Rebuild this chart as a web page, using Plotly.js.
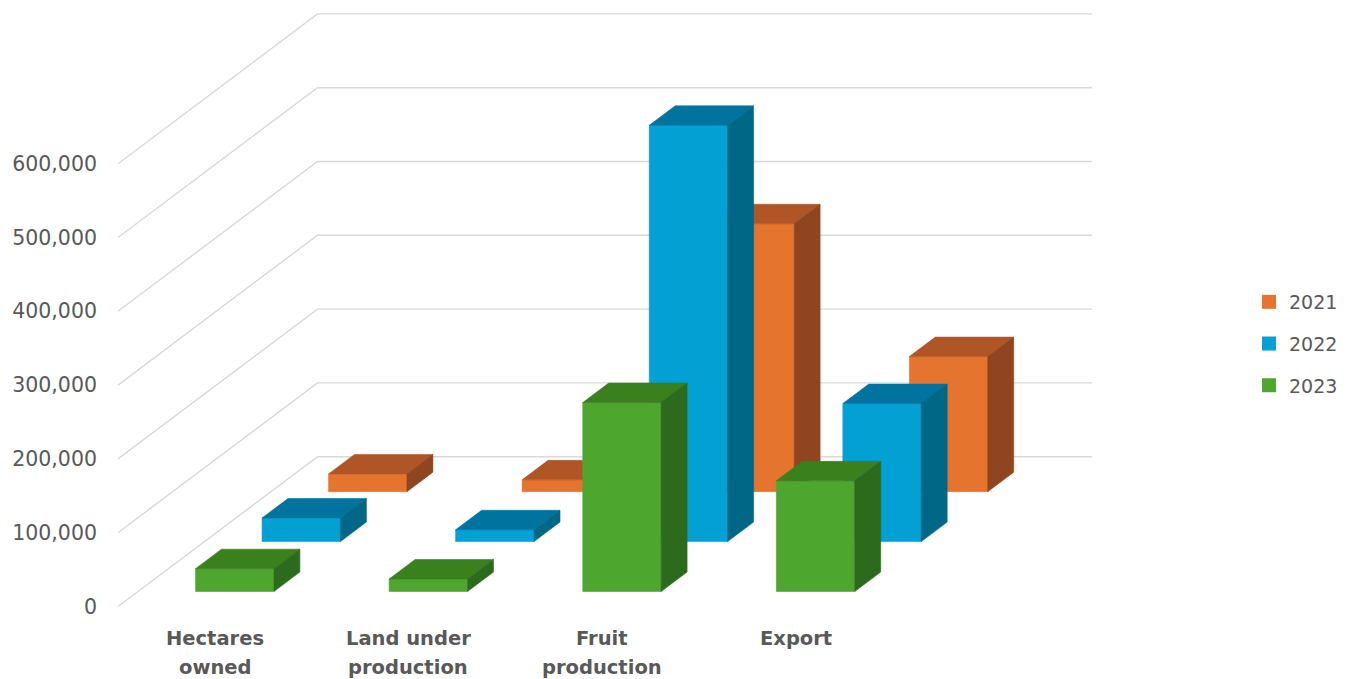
<!DOCTYPE html>
<html>
<head>
<meta charset="utf-8">
<script src="https://cdn.plot.ly/plotly-3.0.1.min.js"></script>
<style>
  html, body { margin: 0; padding: 0; background: #ffffff; }
  #chart { width: 1349px; height: 679px; }
</style>
</head>
<body>
<div id="chart"></div>
<script>
// Categories along the front edge of the floor
var categories = ['Hectares owned', 'Land under production', 'Fruit production', 'Export'];
var categoryLabels = ['Hectares<br>owned', 'Land under<br>production', 'Fruit<br>production', 'Export'];

// Series values (one row of bars per year)
var years = ['2021', '2022', '2023'];
var values2021 = [24000, 16000, 363000, 183000];
var values2022 = [32000, 16000, 564000, 187000];
var values2023 = [31000, 17000, 256000, 150000];

// Value axis ticks
var yTicks = [0, 100000, 200000, 300000, 400000, 500000, 600000];

// Face colours: front, top, side
var colors2021 = ['#E5742F', '#B05626', '#8E4520'];
var colors2022 = ['#03A0D4', '#00749E', '#006787'];
var colors2023 = ['#4DA72F', '#3A801C', '#2C6B1E'];

// Oblique projection: moving from the front of the floor to the back wall
// shifts a point by DEPTH_X categories to the right and DEPTH_Y value units up.
var DEPTH_X = 1.0305;
var DEPTH_Y = 203000;
var BAR_WIDTH = 0.405;
var BAR_DEPTH = 0.13;
var ROW_OFFSET = 0.1;          // gap between a depth slot's front and its bars
var nRows = years.length;

var series = [
  { name: years[0], values: values2021, colors: colors2021, row: 2 },
  { name: years[1], values: values2022, colors: colors2022, row: 1 },
  { name: years[2], values: values2023, colors: colors2023, row: 0 }
];

var traces = [];

// Wall gridlines: a diagonal on the left wall and a horizontal on the back wall
var gx = [], gy = [];
var leftX = -0.5, rightX = categories.length - 0.5;
yTicks.forEach(function (v) {
  gx.push(leftX, leftX + DEPTH_X, rightX + DEPTH_X, null);
  gy.push(v, v + DEPTH_Y, v + DEPTH_Y, null);
});
traces.push({
  type: 'scatter', mode: 'lines', x: gx, y: gy,
  line: { color: '#d9d9d9', width: 1.4 },
  hoverinfo: 'skip', showlegend: false
});

function face(xs, ys, color) {
  return {
    type: 'scatter', mode: 'lines', x: xs, y: ys,
    fill: 'toself', fillcolor: color,
    line: { color: color, width: 0.6 },
    hoverinfo: 'skip', showlegend: false
  };
}

// Boxes are drawn from the back row to the front row
series.forEach(function (s) {
  var d0 = s.row / nRows + ROW_OFFSET;
  var base = d0 * DEPTH_Y;
  var ddx = BAR_DEPTH * DEPTH_X, ddy = BAR_DEPTH * DEPTH_Y;
  var fx = [], fy = [], tx = [], ty = [], sx = [], sy = [];
  s.values.forEach(function (v, i) {
    var xl = i - BAR_WIDTH / 2 + d0 * DEPTH_X;
    var xr = i + BAR_WIDTH / 2 + d0 * DEPTH_X;
    var top = base + v;
    fx.push(xl, xr, xr, xl, xl, null);
    fy.push(base, base, top, top, base, null);
    tx.push(xl, xr, xr + ddx, xl + ddx, xl, null);
    ty.push(top, top, top + ddy, top + ddy, top, null);
    sx.push(xr, xr + ddx, xr + ddx, xr, xr, null);
    sy.push(base, base + ddy, top + ddy, top, base, null);
  });
  traces.push(face(fx, fy, s.colors[0]));
  traces.push(face(tx, ty, s.colors[1]));
  traces.push(face(sx, sy, s.colors[2]));
});

// Legend entries (square swatches in the front-face colour)
[colors2021, colors2022, colors2023].forEach(function (c, k) {
  traces.push({
    type: 'scatter', mode: 'markers', x: [null], y: [null],
    name: years[k], legendgroup: years[k],
    marker: { symbol: 'square', size: 14, color: c[0] },
    hoverinfo: 'skip', showlegend: true
  });
});

// Category labels under the floor, one annotation per text line
var annotations = [];
categoryLabels.forEach(function (label, i) {
  label.split('<br>').forEach(function (line, j) {
    annotations.push({
      xref: 'x', yref: 'paper', x: i, y: 0,
      xanchor: 'center', yanchor: 'middle',
      yshift: -24 - 29 * j,
      text: line, showarrow: false,
      font: { family: 'DejaVu Sans', size: 19.5, color: '#595959', weight: 'bold' }
    });
  });
});

var layout = {
  width: 1349, height: 679,
  margin: { l: 100, r: 249, t: 1, b: 65, pad: 0 },
  paper_bgcolor: '#ffffff', plot_bgcolor: '#ffffff',
  showlegend: true,
  legend: {
    x: 1.149, y: 0.54, xanchor: 'left', yanchor: 'top',
    tracegroupgap: 14,
    font: { family: 'DejaVu Sans', size: 19, color: '#595959' },
    bgcolor: 'rgba(0,0,0,0)'
  },
  xaxis: {
    range: [-0.593, 4.5723],
    showgrid: false, zeroline: false, showline: false,
    showticklabels: false, ticks: '', fixedrange: true
  },
  yaxis: {
    range: [-10163, 820461],
    tickvals: yTicks,
    ticktext: yTicks.map(function (v) { return v.toLocaleString('en-US'); }),
    showgrid: false, zeroline: false, showline: false, ticks: '',
    ticklabelstandoff: 2,
    tickfont: { family: 'DejaVu Sans', size: 20.5, color: '#595959' },
    fixedrange: true
  },
  annotations: annotations,
  font: { family: 'DejaVu Sans' }
};

Plotly.newPlot('chart', traces, layout, { displayModeBar: false, staticPlot: true });
</script>
</body>
</html>
